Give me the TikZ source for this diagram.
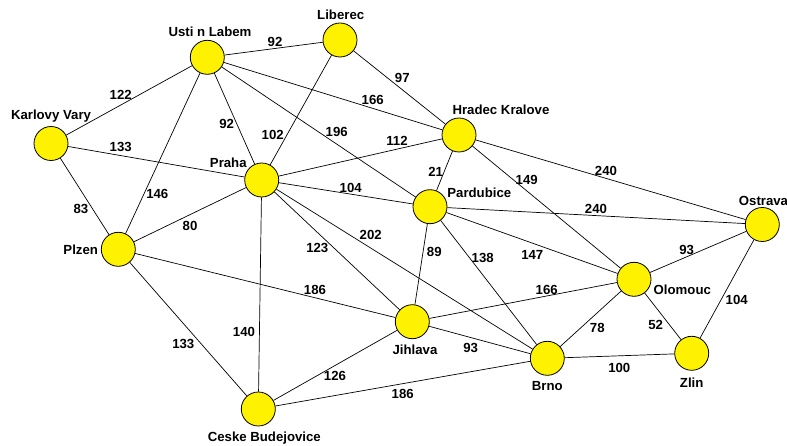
\documentclass[tikz,border=0pt]{standalone}
\usepackage{fontspec}
\setmainfont{Liberation Sans}
\begin{document}
\begin{tikzpicture}[x=1pt,y=-1pt,
  city/.style={circle,draw=black,fill=yellow,line width=0.8pt,minimum size=34pt,inner sep=0pt},
  txt/.style={font=\fontsize{13.2}{15}\selectfont\bfseries,inner sep=0pt,text height=9.5pt,text depth=0pt},
  road/.style={draw=black,line width=0.7pt}]
\useasboundingbox (0,0) rectangle (787,446);
% cities
\node[city] (usti) at (207.3,57.3) {};
\node[city] (lib) at (340,40) {};
\node[city] (kv) at (51,143.5) {};
\node[city] (hk) at (459,135) {};
\node[city] (pra) at (261.7,180) {};
\node[city] (par) at (430,206.7) {};
\node[city] (ost) at (762.3,224.5) {};
\node[city] (plz) at (118.3,249.3) {};
\node[city] (olo) at (634,279.3) {};
\node[city] (jih) at (412.3,321.7) {};
\node[city] (brn) at (547.3,358.3) {};
\node[city] (zli) at (691.7,353.3) {};
\node[city] (cb) at (258.3,409) {};
% city names
\node[txt] (tusti) at (210,31.7) {Usti n Labem};
\node[txt] (tlib) at (340.7,14.3) {Liberec};
\node[txt] (tkv) at (51,115) {Karlovy Vary};
\node[txt] (thk) at (501,110) {Hradec Kralove};
\node[txt] (tpra) at (228.3,162.3) {Praha};
\node[txt] (tpar) at (479.3,192.7) {Pardubice};
\node[txt] (tost) at (763.5,200.7) {Ostrava};
\node[txt] (tplz) at (80.7,249.3) {Plzen};
\node[txt] (tolo) at (682.3,290) {Olomouc};
\node[txt] (tjih) at (415,349.3) {Jihlava};
\node[txt] (tbrn) at (547.3,386) {Brno};
\node[txt] (tzli) at (691.7,382.7) {Zlin};
\node[txt] (tcb) at (264.3,436.7) {Ceske Budejovice};
% roads
\draw[road] (usti) -- (lib);
\draw[road] (usti) -- (kv);
\draw[road] (usti) -- (hk);
\draw[road] (usti) -- (pra);
\draw[road] (usti) -- (par);
\draw[road] (usti) -- (plz);
\draw[road] (lib) -- (pra);
\draw[road] (lib) -- (hk);
\draw[road] (kv) -- (pra);
\draw[road] (kv) -- (plz);
\draw[road] (pra) -- (hk);
\draw[road] (pra) -- (par);
\draw[road] (pra) -- (plz);
\draw[road] (pra) -- (jih);
\draw[road] (pra) -- (brn);
\draw[road] (pra) -- (cb);
\draw[road] (hk) -- (par);
\draw[road] (hk) -- (olo);
\draw[road] (hk) -- (ost);
\draw[road] (par) -- (ost);
\draw[road] (par) -- (olo);
\draw[road] (par) -- (jih);
\draw[road] (par) -- (brn);
\draw[road] (plz) -- (jih);
\draw[road] (plz) -- (cb);
\draw[road] (jih) -- (olo);
\draw[road] (jih) -- (brn);
\draw[road] (jih) -- (cb);
\draw[road] (cb) -- (brn);
\draw[road] (brn) -- (olo);
\draw[road] (brn) -- (zli);
\draw[road] (olo) -- (ost);
\draw[road] (olo) -- (zli);
\draw[road] (zli) -- (ost);
% distances
\node[txt] (d1) at (275,41.7) {92};
\node[txt] (d2) at (120.7,94.3) {122};
\node[txt] (d3) at (372.7,99.3) {166};
\node[txt] (d4) at (226.7,124) {92};
\node[txt] (d5) at (272.7,135) {102};
\node[txt] (d6) at (336.7,131.7) {196};
\node[txt] (d7) at (120.7,146.7) {133};
\node[txt] (d8) at (157.3,194) {146};
\node[txt] (d9) at (81,208.3) {83};
\node[txt] (d10) at (190,225.3) {80};
\node[txt] (d11) at (350.7,187.7) {104};
\node[txt] (d12) at (402.3,77.3) {97};
\node[txt] (d13) at (397,141) {112};
\node[txt] (d14) at (435.7,171.7) {21};
\node[txt] (d15) at (526.7,179.3) {149};
\node[txt] (d16) at (606,170.7) {240};
\node[txt] (d17) at (596,208.3) {240};
\node[txt] (d18) at (317.3,247.3) {123};
\node[txt] (d19) at (370.7,234.3) {202};
\node[txt] (d20) at (315,290) {186};
\node[txt] (d21) at (244,331.7) {140};
\node[txt] (d22) at (183.3,343.3) {133};
\node[txt] (d23) at (335,376) {126};
\node[txt] (d24) at (434.3,251.7) {89};
\node[txt] (d25) at (482.7,257.3) {138};
\node[txt] (d26) at (532.3,254.3) {147};
\node[txt] (d27) at (686.7,249.3) {93};
\node[txt] (d28) at (546.7,289.3) {166};
\node[txt] (d29) at (736.7,299.3) {104};
\node[txt] (d30) at (597.3,327.3) {78};
\node[txt] (d31) at (655.7,324.3) {52};
\node[txt] (d32) at (470.7,347.3) {93};
\node[txt] (d33) at (619.3,367.3) {100};
\node[txt] (d34) at (402.7,394) {186};
\end{tikzpicture}
\end{document}
